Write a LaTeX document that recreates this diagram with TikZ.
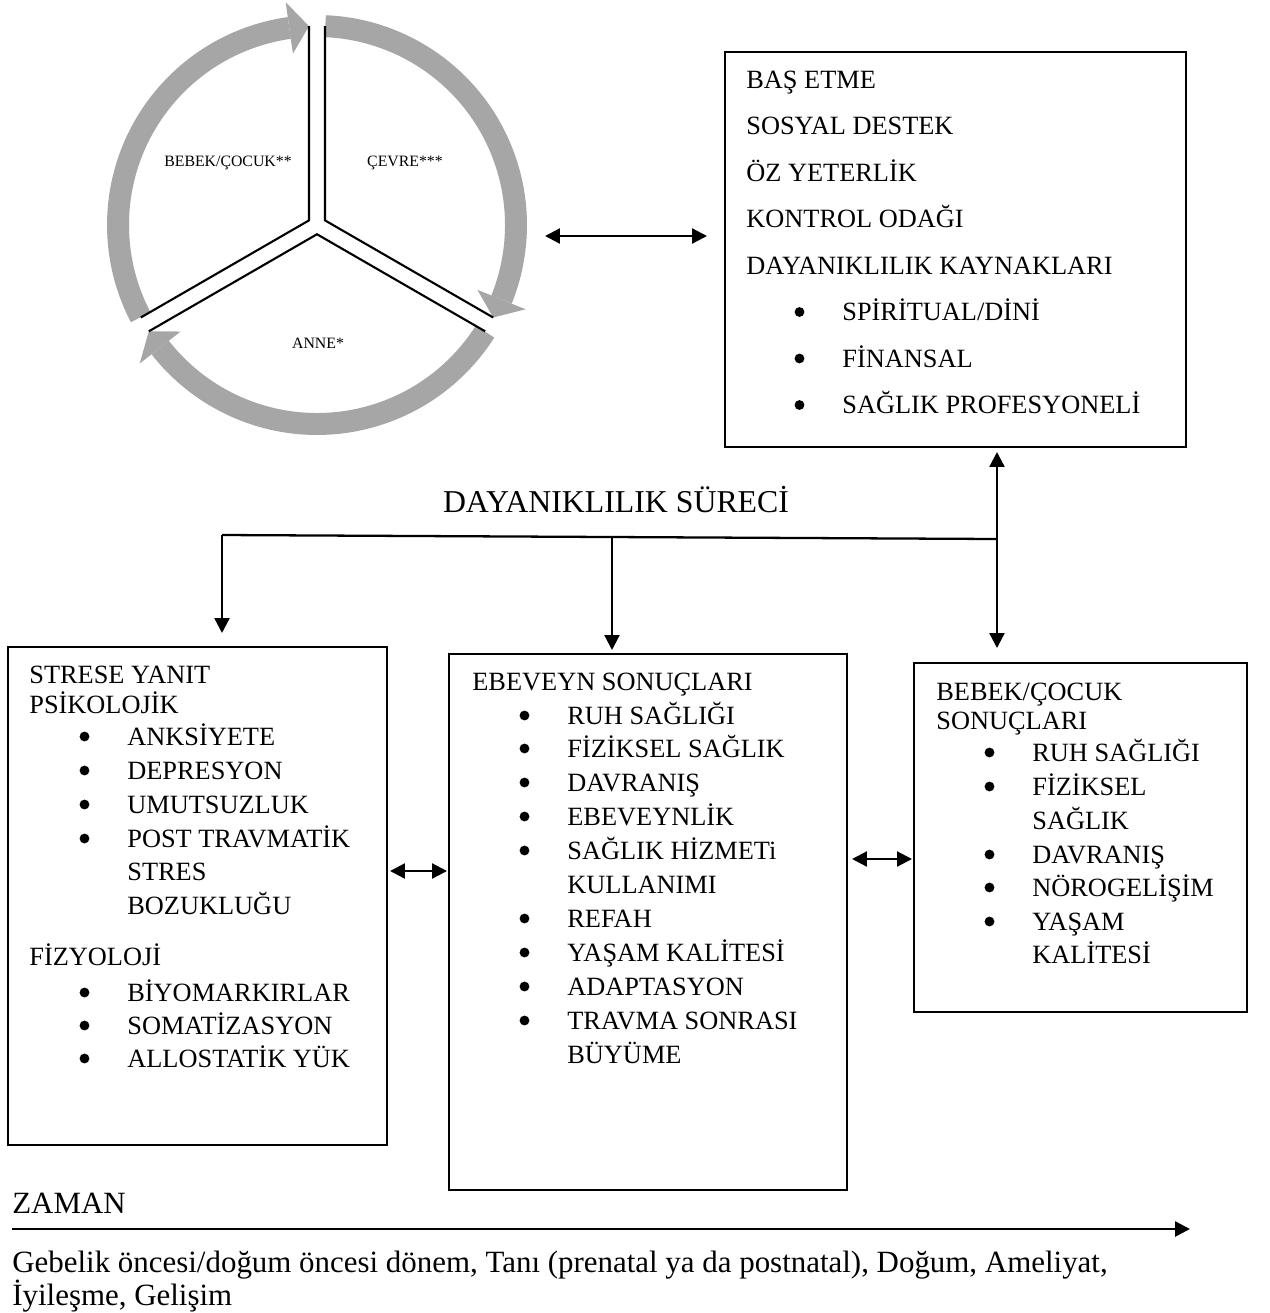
\documentclass[tikz,border=0pt]{standalone}
\usepackage{fontspec}
\setmainfont{Liberation Serif}
\usetikzlibrary{arrows.meta,calc,fit}
\definecolor{ringgray}{HTML}{A6A6A6}
\begin{document}
\begin{tikzpicture}[x=0.02cm,y=-0.02cm,
  box/.style={draw, line width=1.1pt, inner sep=0pt},
  txt/.style={anchor=base west, inner sep=0pt, font=\fontsize{15}{18}\selectfont},
  big/.style={anchor=base west, inner sep=0pt, font=\fontsize{17.6}{21}\selectfont},
  conn/.style={line width=1.3pt},
  tip/.style={-{Triangle[length=8.5pt,width=8.5pt]}},
  dbl/.style={{Triangle[length=8.5pt,width=8.5pt]}-{Triangle[length=8.5pt,width=8.5pt]}},
  ring/.style={draw=ringgray, line width=12.5pt},
  yline/.style={line width=1.2pt, line join=miter},
  clabel/.style={font=\fontsize{9}{11}\selectfont, inner sep=0pt}
]
\useasboundingbox (0,0) rectangle (1270,1313);
\fill[white] (0,0) rectangle (1270,1313);

% ---- cycle ----
\coordinate (C) at (317,225);
\foreach \s/\e/\t in {-207.6/-98/-92.3, -87.6/22/27.7, 32.4/142/147.7}{
  \draw[ring] ($(C)+(\s:199)$) arc[start angle=\s, end angle=\e, radius=199];
  \fill[ringgray] ($(C)+(\e:225)$) -- ($(C)+(\e:173)$) -- ($(C)+(\t:199)$) -- cycle;
}
\draw[yline] ($(C)+(-90:198.8)+(180:8)$) -- ($(C)+(-150:9.24)$) -- ($(C)+(150:198.8)+(-120:8)$);
\draw[yline] ($(C)+(-90:198.8)+(0:8)$) -- ($(C)+(-30:9.24)$) -- ($(C)+(30:198.8)+(-60:8)$);
\draw[yline] ($(C)+(150:198.8)+(60:8)$) -- ($(C)+(90:9.24)$) -- ($(C)+(30:198.8)+(120:8)$);
\node[clabel] (lbebek) at (228,163) {BEBEK/ÇOCUK**};
\node[clabel] (lcevre) at (405,163) {ÇEVRE***};
\node[clabel] (lanne) at (318,343) {ANNE*};

% ---- boxes ----
\node[box, fit={(725,52)(1186,447)}] (tr) {};
\node[box, fit={(8,647)(387,1145)}] (lb) {};
\node[box, fit={(449,654)(847,1190)}] (mb) {};
\node[box, fit={(914,663)(1247,1012)}] (rb) {};

% top right box text
\foreach \tx [count=\i from 0] in {BAŞ ETME, SOSYAL DESTEK, ÖZ YETERLİK, KONTROL ODAĞI, DAYANIKLILIK KAYNAKLARI}
  \node[txt] (tr\i) at (746,{88+46.5*\i}) {\tx};
\foreach \tx [count=\i from 5] in {SPİRİTUAL/DİNİ, FİNANSAL, SAĞLIK PROFESYONELİ}
  \node[txt] (tr\i) at (842,{88+46.5*\i}) {\tx};

% left box text
\node[txt] (lb1) at (29,683) {STRESE YANIT};
\node[txt] (lb2) at (29,713) {PSİKOLOJİK};
\node[txt] (lb3) at (127,745) {ANKSİYETE};
\node[txt] (lb4) at (127,779) {DEPRESYON};
\node[txt] (lb5) at (127,813) {UMUTSUZLUK};
\node[txt] (lb6) at (127,847) {POST TRAVMATİK};
\node[txt] (lb7) at (127,880) {STRES};
\node[txt] (lb8) at (127,914) {BOZUKLUĞU};
\node[txt] (lb9) at (29,965) {FİZYOLOJİ};
\node[txt] (lb10) at (127,1001) {BİYOMARKIRLAR};
\node[txt] (lb11) at (127,1034) {SOMATİZASYON};
\node[txt] (lb12) at (127,1067) {ALLOSTATİK YÜK};

% middle box text
\node[txt] (mb1) at (472,690) {EBEVEYN SONUÇLARI};
\node[txt] (mb2) at (567,724) {RUH SAĞLIĞI};
\node[txt] (mb3) at (567,757) {FİZİKSEL SAĞLIK};
\node[txt] (mb4) at (567,791) {DAVRANIŞ};
\node[txt] (mb5) at (567,825) {EBEVEYNLİK};
\node[txt] (mb6) at (567,859) {SAĞLIK HİZMETi};
\node[txt] (mb7) at (567,893) {KULLANIMI};
\node[txt] (mb8) at (567,927) {REFAH};
\node[txt] (mb9) at (567,961) {YAŞAM KALİTESİ};
\node[txt] (mb10) at (567,995) {ADAPTASYON};
\node[txt] (mb11) at (567,1029) {TRAVMA SONRASI};
\node[txt] (mb12) at (567,1063) {BÜYÜME};

% right box text
\node[txt] (rb1) at (936,700) {BEBEK/ÇOCUK};
\node[txt] (rb2) at (936,729) {SONUÇLARI};
\node[txt] (rb3) at (1032,761) {RUH SAĞLIĞI};
\node[txt] (rb4) at (1032,795) {FİZİKSEL};
\node[txt] (rb5) at (1032,829) {SAĞLIK};
\node[txt] (rb6) at (1032,863) {DAVRANIŞ};
\node[txt] (rb7) at (1032,896) {NÖROGELİŞİM};
\node[txt] (rb8) at (1032,930) {YAŞAM};
\node[txt] (rb9) at (1032,963) {KALİTESİ};

% bullets
\foreach \n in {tr5,tr6,tr7,lb3,lb4,lb5,lb6,lb10,lb11,lb12,mb2,mb3,mb4,mb5,mb6,mb8,mb9,mb10,mb11,rb3,rb4,rb6,rb7,rb8}
  \fill ($(\n.base west)+(-42.5,-8.5)$) circle (2.8pt);

% process title
\node[anchor=base, inner sep=0pt, font=\fontsize{18.1}{22}\selectfont] (ds) at (616,512) {DAYANIKLILIK SÜRECİ};

% ---- connectors ----
\coordinate (ca) at (545,236); \coordinate (cb) at (707,236);
\draw[conn,dbl] (ca) -- (cb);
\coordinate (va) at (997,452); \coordinate (vb) at (997,648);
\draw[conn,dbl] (va) -- (vb);
\coordinate (ha) at (222,535); \coordinate (hb) at (997,539);
\draw[conn] (ha) -- (hb);
\coordinate (lt) at (222,633);
\draw[conn,tip] (ha) -- (lt);
\coordinate (ma) at (612,537); \coordinate (mt) at (612,650);
\draw[conn,tip] (ma) -- (mt);
\coordinate (s1a) at (390,871); \coordinate (s1b) at (447,871);
\draw[conn,dbl] (s1a) -- (s1b);
\coordinate (s2a) at (852,859); \coordinate (s2b) at (912,859);
\draw[conn,dbl] (s2a) -- (s2b);

% ---- time axis ----
\node[big] (zaman) at (12,1213) {ZAMAN};
\coordinate (za) at (12,1229); \coordinate (zb) at (1190,1229);
\draw[line width=1.5pt,tip] (za) -- (zb);
\node[big] (g1) at (12,1272) {Gebelik öncesi/doğum öncesi dönem, Tanı (prenatal ya da postnatal), Doğum, Ameliyat,};
\node[big] (g2) at (12,1305) {İyileşme, Gelişim};
\end{tikzpicture}
\end{document}
